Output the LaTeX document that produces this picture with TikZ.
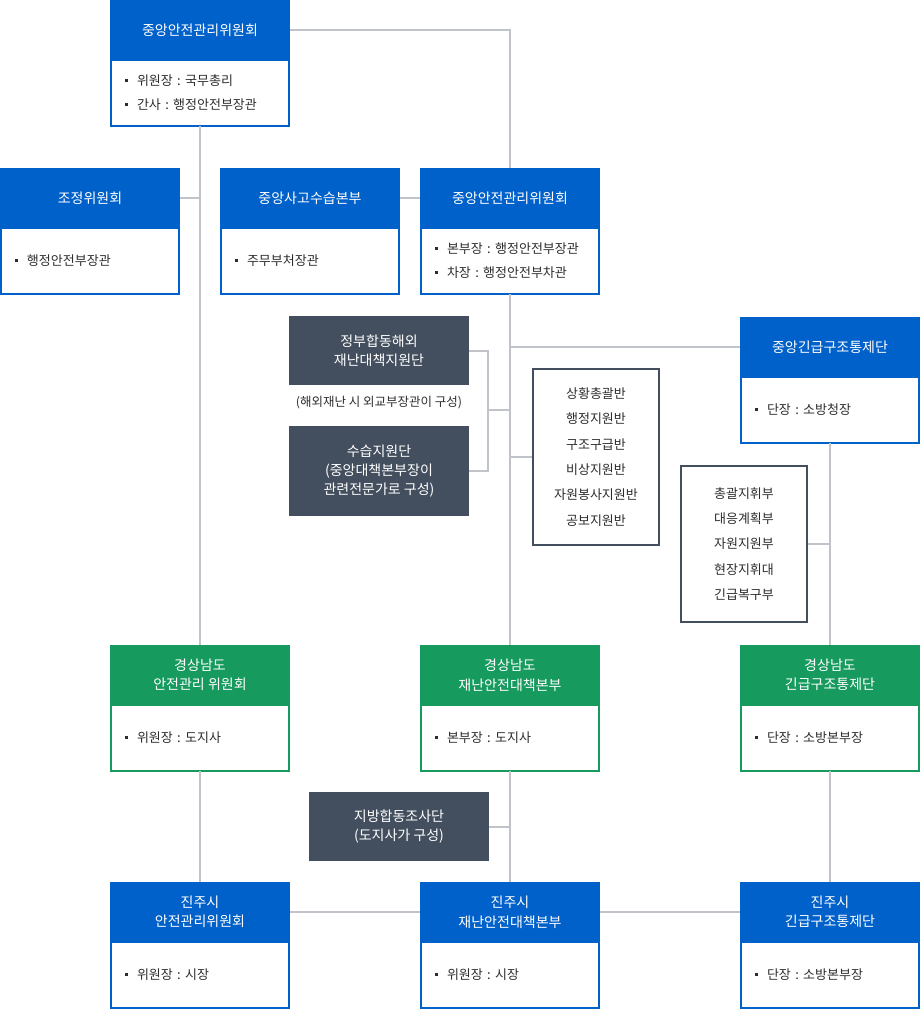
\documentclass[tikz,border=0pt]{standalone}
\usepackage{fontspec}
\setmainfont{Noto Sans CJK KR}
\usepackage{tikz}
\usetikzlibrary{positioning,calc}
\usepackage{xcolor}
\definecolor{cardblue}{RGB}{0,97,202}
\definecolor{cardgreen}{RGB}{22,154,94}
\definecolor{slatebox}{RGB}{67,79,94}
\definecolor{linkgray}{RGB}{192,196,202}
\definecolor{bodytext}{RGB}{45,45,45}
\newcommand{\sq}{{\color{bodytext}\rule[0.3em]{3pt}{3pt}}\hspace{9pt}}
\frenchspacing

\begin{document}
\begin{tikzpicture}[x=1pt, y=-1pt,
  head/.style={fill=cardblue, text=white, align=center, anchor=north west,
              minimum width=180pt, minimum height=60pt, inner sep=0pt, outer sep=0pt,
              font=\fontsize{14}{19.5}\selectfont},
  greenhead/.style={head, fill=cardgreen},
  card/.style={draw=cardblue, line width=2pt, fill=white, align=left, text=bodytext,
              text width=150pt, inner xsep=14pt, minimum width=178pt, minimum height=66pt,
              outer sep=0pt, font=\fontsize{13}{24}\selectfont},
  greencard/.style={card, draw=cardgreen},
  darkbox/.style={fill=slatebox, text=white, align=center, anchor=north west,
              minimum width=180pt, inner sep=0pt, outer sep=0pt,
              font=\fontsize{14}{19}\selectfont},
  listbox/.style={draw=slatebox, line width=2pt, fill=white, align=center, text=bodytext,
              minimum width=126pt, inner sep=0pt, outer sep=1pt,
              font=\fontsize{13}{25.3}\selectfont},
  link/.style={draw=linkgray, line width=2pt}]
\useasboundingbox (0,0) rectangle (920,1010);
\node[head] (cshead) at (110,0) {중앙안전관리위원회};
\node[card, below=0pt of cshead] (csbody) {\sq 위원장 : 국무총리\\\sq 간사 : 행정안전부장관};
\node[head] (adjhead) at (0,168) {조정위원회};
\node[card, below=0pt of adjhead] (adjbody) {\sq 행정안전부장관};
\node[head] (acchead) at (220,168) {중앙사고수습본부};
\node[card, below=0pt of acchead] (accbody) {\sq 주무부처장관};
\node[head] (cdhead) at (420,168) {중앙안전관리위원회};
\node[card, below=0pt of cdhead] (cdbody) {\sq 본부장 : 행정안전부장관\\\sq 차장 : 행정안전부차관};
\node[head] (ermhead) at (740,317) {중앙긴급구조통제단};
\node[card, below=0pt of ermhead] (ermbody) {\sq 단장 : 소방청장};

\node[darkbox, minimum height=69pt] (ovs) at (289,316) {정부합동해외\\재난대책지원단};
\node[text=bodytext, font=\fontsize{12.5}{15}\selectfont] (cap) at (379,403) {(해외재난 시 외교부장관이 구성)};
\node[darkbox, minimum height=90pt] (supp) at (289,426) {수습지원단\\(중앙대책본부장이\\관련전문가로 구성)};
\node[listbox, minimum height=176pt] (teams) at (596,457)
  {상황총괄반\\행정지원반\\구조구급반\\비상지원반\\자원봉사지원반\\공보지원반};
\node[listbox, minimum height=156pt] (units) at (744,544)
  {총괄지휘부\\대응계획부\\자원지원부\\현장지휘대\\긴급복구부};

\node[greenhead] (gscomhead) at (110,645) {경상남도\\안전관리 위원회};
\node[greencard, below=0pt of gscomhead] (gscombody) {\sq 위원장 : 도지사};
\node[greenhead] (gshqhead) at (420,645) {경상남도\\재난안전대책본부};
\node[greencard, below=0pt of gshqhead] (gshqbody) {\sq 본부장 : 도지사};
\node[greenhead] (gsermhead) at (740,645) {경상남도\\긴급구조통제단};
\node[greencard, below=0pt of gsermhead] (gsermbody) {\sq 단장 : 소방본부장};
\node[darkbox, minimum height=69pt] (local) at (309,792) {지방합동조사단\\(도지사가 구성)};

\node[head] (jjcomhead) at (110,882) {진주시\\안전관리위원회};
\node[card, below=0pt of jjcomhead] (jjcombody) {\sq 위원장 : 시장};
\node[head] (jjhqhead) at (420,882) {진주시\\재난안전대책본부};
\node[card, below=0pt of jjhqhead] (jjhqbody) {\sq 위원장 : 시장};
\node[head] (jjermhead) at (740,882) {진주시\\긴급구조통제단};
\node[card, below=0pt of jjermhead] (jjermbody) {\sq 단장 : 소방본부장};

\coordinate (brk) at (488,410);
\draw[link] (cshead.east) -| (cdhead.north);
\draw[link] (csbody.south) -- (gscomhead.north); \draw[link] (gscombody.south) -- (jjcomhead.north);
\draw[link] (adjhead.east) -- (adjhead.east -| csbody.south);
\draw[link] (acchead.east) -- (cdhead.west);
\draw[link] (cdbody.south) -- (gshqhead.north); \draw[link] (gshqbody.south) -- (jjhqhead.north);
\draw[link] (ermhead.west) -- (ermhead.west -| cdbody.south);
\draw[link] (ovs.east) -| (brk) |- (supp.east); \draw[link] (brk) -- (brk -| cdbody.south);
\draw[link] (teams.west) -- (teams.west -| cdbody.south);
\draw[link] (ermbody.south) -- (gsermhead.north); \draw[link] (gsermbody.south) -- (jjermhead.north);
\draw[link] (units.east) -- (units.east -| ermbody.south);
\draw[link] (local.east) -- (local.east -| gshqbody.south);
\draw[link] (jjcomhead.east) -- (jjhqhead.west); \draw[link] (jjhqhead.east) -- (jjermhead.west);
\end{tikzpicture}
\end{document}
